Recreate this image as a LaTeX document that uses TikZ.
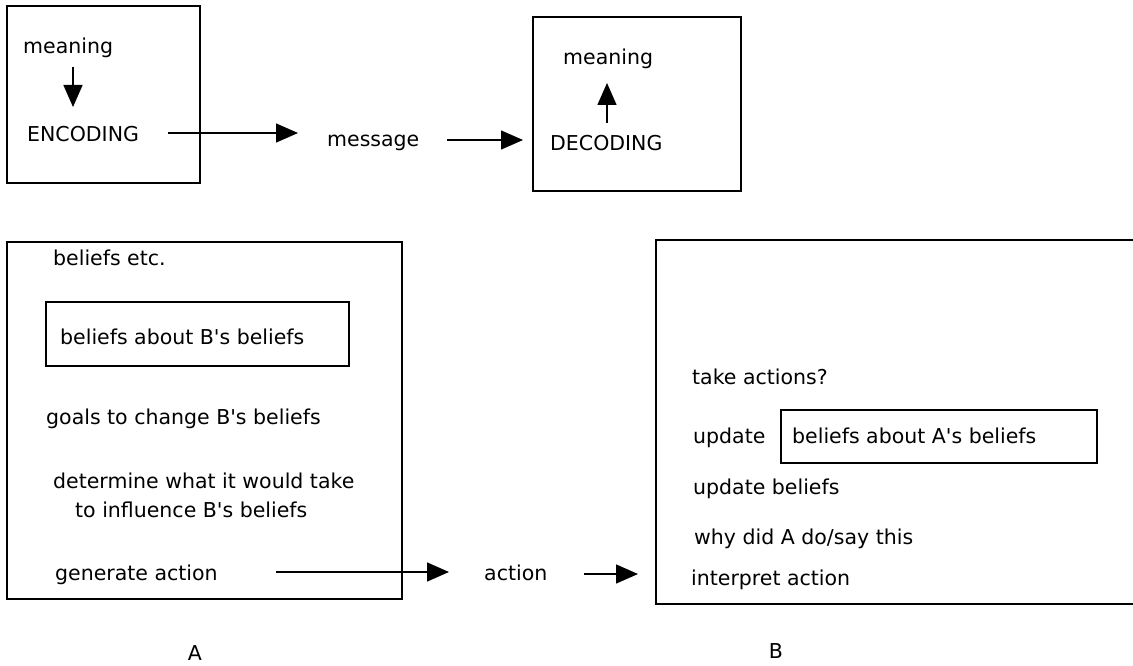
\documentclass[tikz,border=0pt]{standalone}
\usepackage{fontspec}
\setmainfont{DejaVu Sans}
\usetikzlibrary{arrows.meta}
\newcommand{\apo}{\textquotesingle}
\tikzset{
  lbl/.style={inner sep=0pt, anchor=base west, font=\fontsize{20.5}{24}\selectfont},
  clbl/.style={inner sep=0pt, anchor=base, font=\fontsize{20.5}{24}\selectfont},
  frame/.style={draw=black, line width=1.8pt},
  conn/.style={line width=1.5pt, -{Triangle[length=22pt,width=19pt]}}
}
\begin{document}
\begin{tikzpicture}[x=1pt,y=-1pt]
\useasboundingbox[fill=white] (0,0) rectangle (1133,666);

% ---------- top left box ----------
\draw[frame] (7,6) rectangle (200,183);
\node[lbl] (m1) at (23,54) {meaning};
\node[lbl] (enc) at (27,142) {ENCODING};
\coordinate (d1s) at (73,67);
\coordinate (d1e) at (73,107);
\draw[conn] (d1s) -- (d1e);

% ---------- message ----------
\coordinate (a1s) at (168,133);
\coordinate (a1e) at (298,133);
\draw[conn] (a1s) -- (a1e);
\node[lbl] (msg) at (327,147) {message};
\coordinate (a2s) at (447,140);
\coordinate (a2e) at (523,140);
\draw[conn] (a2s) -- (a2e);

% ---------- top right box ----------
\draw[frame] (533,17) rectangle (741,191);
\node[lbl] (m2) at (563,65) {meaning};
\node[lbl] (dec) at (550,151) {DECODING};
\coordinate (u1s) at (607,123);
\coordinate (u1e) at (607,83);
\draw[conn] (u1s) -- (u1e);

% ---------- box A ----------
\draw[frame] (7,242) rectangle (402,599);
\node[lbl] (be) at (53,265) {beliefs etc.};
\draw[frame] (46,302) rectangle (349,366);
\node[lbl] (bab) at (60,344) {beliefs about B\apo s beliefs};
\node[lbl] (goals) at (46,424) {goals to change B\apo s beliefs};
\node[lbl] (det1) at (53,488) {determine what it would take};
\node[lbl] (det2) at (75,517) {to influence B\apo s beliefs};
\node[lbl] (gen) at (55,580) {generate action};
\node[clbl] (A) at (195,660) {A};

% ---------- action ----------
\coordinate (a3s) at (276,572);
\coordinate (a3e) at (449,572);
\draw[conn] (a3s) -- (a3e);
\node[lbl] (act) at (484,580) {action};
\coordinate (a4s) at (584,574);
\coordinate (a4e) at (638,574);
\draw[conn] (a4s) -- (a4e);

% ---------- box B (open on the right) ----------
\draw[frame] (1134,240) -- (656,240) -- (656,604) -- (1134,604);
\node[lbl] (take) at (692,384) {take actions?};
\node[lbl] (upd) at (693,443) {update};
\draw[frame] (781,410) rectangle (1097,463);
\node[lbl] (baa) at (792,443) {beliefs about A\apo s beliefs};
\node[lbl] (updb) at (693,494) {update beliefs};
\node[lbl] (why) at (694,544) {why did A do/say this};
\node[lbl] (interp) at (691,585) {interpret action};
\node[clbl] (B) at (776,658) {B};
\end{tikzpicture}
\end{document}
